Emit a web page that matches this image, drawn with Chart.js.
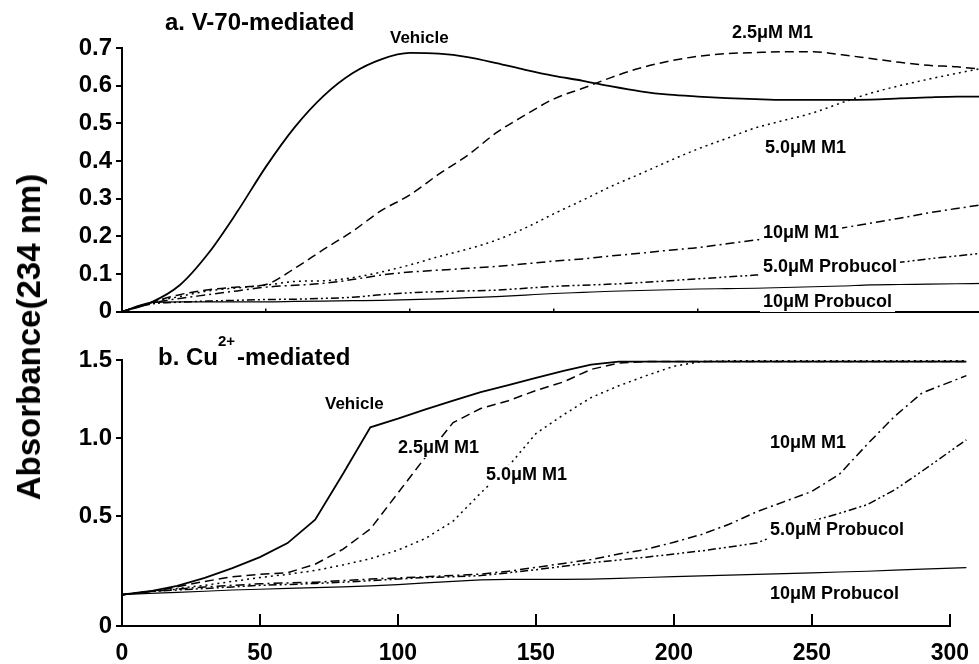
<!DOCTYPE html>
<html>
<head>
<meta charset="utf-8">
<script src="https://cdn.jsdelivr.net/npm/chart.js@4/dist/chart.umd.min.js"></script>
<style>
  html,body{margin:0;padding:0;background:#fff;overflow:hidden;width:979px;height:664px;}
  #wrap{position:relative;width:979px;height:664px;overflow:hidden;}
  #cA{position:absolute;left:0;top:0;}
  #cB{position:absolute;left:0;top:330px;}
  #ytitle{position:absolute;left:29px;top:337px;transform:translate(-50%,-50%) rotate(-90deg);
    font:bold 33px "Liberation Sans",Arial,sans-serif;white-space:nowrap;color:#000;}
</style>
</head>
<body>
<div id="wrap">
  <canvas id="cA" width="1000" height="330"></canvas>
  <canvas id="cB" width="995" height="334"></canvas>
  <div id="ytitle">Absorbance(234 nm)</div>
</div>
<script>
// panel a: V-70-mediated (time, min)
const tA = [0,10,20,30,40,50,60,70,80,90,100,110,120,130,140,150,160,170,180,190,200,210,220,230,240,250,260,270,280,290,300];
const aVehicle = [0,0.024,0.07,0.155,0.265,0.385,0.49,0.573,0.633,0.67,0.687,0.685,0.676,0.66,0.642,0.626,0.613,0.598,0.585,0.576,0.571,0.567,0.564,0.562,0.562,0.562,0.563,0.566,0.569,0.571,0.571];
const aM1_25 = [0,0.024,0.045,0.058,0.065,0.072,0.115,0.165,0.213,0.268,0.31,0.365,0.415,0.475,0.522,0.565,0.593,0.622,0.647,0.665,0.678,0.685,0.688,0.69,0.69,0.682,0.672,0.662,0.654,0.65,0.642];
const aM1_50 = [0,0.024,0.04,0.055,0.063,0.07,0.08,0.082,0.09,0.105,0.124,0.146,0.166,0.19,0.222,0.26,0.296,0.333,0.366,0.4,0.432,0.46,0.488,0.508,0.528,0.555,0.58,0.6,0.617,0.633,0.648];
const aM1_10 = [0,0.022,0.035,0.045,0.055,0.065,0.07,0.075,0.085,0.097,0.105,0.11,0.115,0.12,0.127,0.134,0.14,0.148,0.155,0.163,0.17,0.18,0.19,0.2,0.21,0.222,0.235,0.248,0.262,0.274,0.285];
const aProb_50 = [0,0.02,0.025,0.028,0.03,0.032,0.033,0.035,0.038,0.045,0.05,0.053,0.055,0.057,0.062,0.067,0.07,0.073,0.077,0.082,0.087,0.092,0.097,0.103,0.11,0.118,0.125,0.131,0.14,0.148,0.156];
const aProb_10 = [0,0.024,0.026,0.026,0.026,0.026,0.027,0.028,0.029,0.03,0.032,0.034,0.037,0.04,0.044,0.048,0.051,0.054,0.056,0.058,0.06,0.061,0.062,0.064,0.066,0.068,0.071,0.072,0.073,0.074,0.075];

// panel b: Cu2+-mediated (last reading runs a little past the 300 tick)
const tB = [0,10,20,30,40,50,60,70,80,90,100,110,120,130,140,150,160,170,180,190,200,210,220,230,240,250,260,270,280,290,306];
const bVehicle = [0,0.022,0.056,0.108,0.17,0.24,0.33,0.48,0.77,1.07,1.125,1.185,1.24,1.295,1.34,1.385,1.43,1.47,1.49,1.49,1.49,1.49,1.49,1.49,1.49,1.49,1.49,1.49,1.49,1.49,1.49];
const bM1_25 = [0,0.02,0.05,0.085,0.115,0.13,0.14,0.195,0.29,0.42,0.65,0.88,1.1,1.19,1.24,1.305,1.36,1.44,1.48,1.49,1.49,1.49,1.49,1.49,1.49,1.49,1.49,1.49,1.49,1.49,1.49];
const bM1_50 = [0,0.02,0.04,0.06,0.085,0.11,0.13,0.155,0.19,0.23,0.285,0.36,0.47,0.65,0.82,1.03,1.15,1.26,1.335,1.4,1.46,1.49,1.495,1.495,1.495,1.495,1.495,1.495,1.495,1.495,1.495];
const bM1_10 = [0,0.02,0.035,0.05,0.06,0.07,0.075,0.08,0.09,0.1,0.107,0.115,0.123,0.132,0.15,0.175,0.2,0.225,0.26,0.29,0.335,0.385,0.45,0.53,0.595,0.66,0.77,0.96,1.14,1.29,1.4];
const bProb_50 = [0,0.02,0.03,0.04,0.05,0.06,0.065,0.072,0.08,0.09,0.1,0.11,0.115,0.122,0.14,0.16,0.182,0.204,0.222,0.24,0.26,0.28,0.305,0.33,0.4,0.47,0.52,0.575,0.67,0.79,0.99];
const bProb_10 = [0,0.008,0.015,0.022,0.03,0.035,0.04,0.045,0.05,0.057,0.065,0.075,0.085,0.095,0.098,0.098,0.098,0.1,0.105,0.11,0.115,0.12,0.125,0.13,0.135,0.14,0.145,0.15,0.157,0.163,0.173];

const seriesNames = ['Vehicle','2.5μM M1','5.0μM M1','10μM M1','5.0μM Probucol','10μM Probucol'];
const yTicksA = [0,0.1,0.2,0.3,0.4,0.5,0.6,0.7];
const yTicksB = [-0.2,0.5,1.0,1.5];
const xTicks = [0,50,100,150,200,250,300];

const FONT = '"Liberation Sans", Arial, sans-serif';
const styles = [
  {dash:[], w:1.8},
  {dash:[9,5], w:1.5},
  {dash:[2,4], w:1.5},
  {dash:[9,4,2,4], w:1.5},
  {dash:[8,3,2,3,2,3], w:1.5},
  {dash:[], w:1.2}
];

function makeSets(t, arrs, tension){
  return arrs.map((arr,i)=>({
    label: seriesNames[i],
    data: t.map((x,j)=>({x:x, y:arr[j]})),
    borderColor:'#000',
    borderWidth: styles[i].w,
    borderDash: styles[i].dash,
    pointRadius:0,
    fill:false,
    tension: tension,
    cubicInterpolationMode: tension ? 'monotone' : 'default',
    clip:false
  }));
}

// text annotations, canvas pixel coords (left, middle)
const notesA = [
  {t:'a. V-70-mediated', x:165, y:23, s:24, bg:false},
  {t:'Vehicle', x:390, y:38, s:17},
  {t:'2.5μM M1', x:732, y:33, s:18},
  {t:'5.0μM M1', x:765, y:148, s:18},
  {t:'10μM M1', x:763, y:233, s:18},
  {t:'5.0μM Probucol', x:763, y:267, s:18},
  {t:'10μM Probucol', x:763, y:302, s:18}
];
const notesB = [
  {t:'Vehicle', x:325, y:74, s:17},
  {t:'2.5μM M1', x:398, y:118, s:18},
  {t:'5.0μM M1', x:486, y:145, s:18},
  {t:'10μM M1', x:770, y:113, s:18},
  {t:'5.0μM Probucol', x:770, y:200, s:18},
  {t:'10μM Probucol', x:770, y:264, s:18}
];

function notesPlugin(notes, extra){
  return {
    id:'notes',
    afterDatasetsDraw(chart){
      const ctx = chart.ctx;
      ctx.save();
      ctx.textBaseline = 'middle';
      ctx.textAlign = 'left';
      notes.forEach(n=>{
        ctx.font = 'bold '+n.s+'px '+FONT;
        const w = ctx.measureText(n.t).width;
        if(n.bg !== false){
          ctx.fillStyle = '#fff';
          ctx.fillRect(n.x-3, n.y-10, w+6, 20);
        }
        ctx.fillStyle = '#000';
        ctx.fillText(n.t, n.x, n.y);
      });
      if(extra) extra(ctx);
      ctx.restore();
    }
  };
}

function yScale(min, max, ticks, fmt){
  return {
    type:'linear', min:min, max:max,
    afterBuildTicks: s => { s.ticks = ticks.map(v=>({value:v})); },
    afterFit: s => { s.width = 122; },
    border:{display:true, color:'#000', width:2},
    grid:{display:true, drawOnChartArea:false, drawTicks:true, tickLength:6, color:'#000', lineWidth:2},
    ticks:{color:'#000', padding:4, font:{family:FONT, size:24, weight:'bold'}, callback: fmt}
  };
}

Chart.defaults.animation = false;

new Chart(document.getElementById('cA'), {
  type:'line',
  data:{ datasets: makeSets(tA, [aVehicle,aM1_25,aM1_50,aM1_10,aProb_50,aProb_10], 0.4) },
  options:{
    responsive:false, animation:false,
    layout:{padding:{left:0, top:48, right:14, bottom:0}},
    plugins:{legend:{display:false}, tooltip:{enabled:false}, title:{display:false}},
    scales:{
      x:{
        type:'linear', min:0, max:300,
        afterBuildTicks: s => { s.ticks = xTicks.map(v=>({value:v})); },
        afterFit: s => { s.height = 16; },
        border:{display:true, color:'#000', width:2},
        grid:{display:true, drawOnChartArea:false, drawTicks:true, tickLength:-3, color:'#000', lineWidth:1.5},
        ticks:{display:false}
      },
      y: yScale(0, 0.7, yTicksA, v => v === 0 ? '0' : v.toFixed(1))
    }
  },
  plugins:[notesPlugin(notesA)]
});

new Chart(document.getElementById('cB'), {
  type:'line',
  data:{ datasets: makeSets(tB, [bVehicle,bM1_25,bM1_50,bM1_10,bProb_50,bProb_10], 0) },
  options:{
    responsive:false, animation:false,
    layout:{padding:{left:0, top:30, right:0, bottom:0}},
    plugins:{legend:{display:false}, tooltip:{enabled:false}, title:{display:false}},
    scales:{
      x:{
        type:'linear', min:0, max:300,
        afterBuildTicks: s => { s.ticks = xTicks.map(v=>({value:v})); },
        afterFit: s => { s.height = 38; },
        border:{display:true, color:'#000', width:2},
        grid:{display:true, drawOnChartArea:false, drawTicks:true, tickLength:-12, color:'#000', lineWidth:2},
        ticks:{color:'#000', padding:26, maxRotation:0, font:{family:FONT, size:23, weight:'bold'}}
      },
      y: yScale(-0.2, 1.5, yTicksB, v => v < 0 ? '0' : v.toFixed(1))
    }
  },
  plugins:[notesPlugin(notesB, ctx => {
    // panel title with superscript
    ctx.fillStyle = '#000';
    ctx.font = 'bold 24px '+FONT;
    ctx.fillText('b. Cu', 158, 28);
    const w1 = ctx.measureText('b. Cu').width;
    ctx.font = 'bold 15px '+FONT;
    ctx.fillText('2+', 158+w1, 12);
    const w2 = ctx.measureText('2+').width;
    ctx.font = 'bold 24px '+FONT;
    ctx.fillText('-mediated', 158+w1+w2+2, 28);
  })]
});
</script>
</body>
</html>
